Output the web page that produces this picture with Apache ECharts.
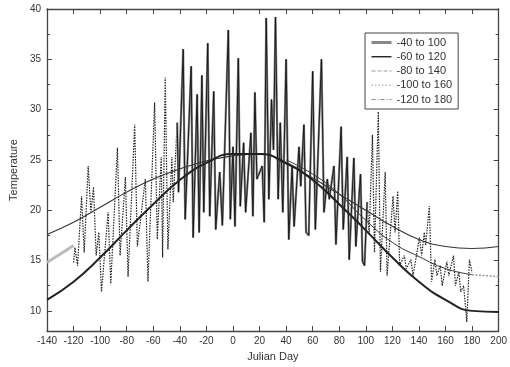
<!DOCTYPE html>
<html><head><meta charset="utf-8">
<script src="https://cdn.jsdelivr.net/npm/echarts@6/dist/echarts.min.js"></script>
<style>html,body{margin:0;padding:0;background:#fff}#c{width:510px;height:367px}</style>
</head><body><div id="c"></div>
<script>
// ---- data ----
const legendNames = ['-40 to 100', '-60 to 120', '-80 to 140', '-100 to 160', '-120 to 180'];
const yMajorTicks = [10, 15, 20, 25, 30, 35, 40];
const yMinorTicks = [12.5, 17.5, 22.5, 27.5, 32.5, 37.5];

// daily temperature trace (peaks / troughs)
const noiseDays = [
  -120, -119, -117, -114, -112, -109, -107, -105, -103, -101, -99, -94, -92, -87, -85, -81, -79,
  -74, -72, -66, -64, -59, -57, -54, -53, -51, -49, -46, -45, -42, -41,
  -37.5, -36, -31.5, -30, -27, -25.5, -23.4, -22, -19, -17.5, -14.5, -13, -10, -8, -3.5, -2,
  0, 1.5, 4, 5.5, 8, 9.5, 13.5, 15, 16.5, 18, 22, 23.5, 25, 27, 29, 30.5, 32, 34, 35.6, 37.5,
  40, 42, 44.5, 46, 49.7, 51, 53.4, 55, 57, 60, 62, 66.6, 68.5, 71, 72.5, 76, 77.5, 81.4, 83,
  86, 87.5, 91, 92.5, 96, 97.5, 99, 101, 102.5,
  105, 106.5, 109.4, 111, 114.6, 116, 120.5, 122, 124, 125.5, 129, 130.5, 134, 135.5, 140.4, 142,
  144, 145, 147.8, 149.5, 152, 153.5, 156, 157.5, 161, 162.5, 166, 167.5, 170, 171.5, 173.6, 175,
  176, 178, 180
];
const noiseTemps = [
  14.8, 16.3, 14.5, 21.4, 15.8, 24.4, 19.8, 22.3, 15.5, 17.8, 11.9, 19.8, 12.7, 26.2, 15.5, 23.3, 13.4,
  28.5, 16.4, 23.1, 12.9, 30.7, 17.1, 25.3, 15.3, 33.2, 16.1, 25.3, 20.8, 28.7, 21.8,
  36.0, 19.1, 34.3, 17.3, 31.5, 17.8, 33.4, 19.8, 36.6, 19.4, 31.8, 18.1, 23.8, 18.5, 37.9, 19.1,
  26.3, 18.4, 35.1, 20.4, 26.7, 19.8, 27.7, 19.4, 31.7, 23.1, 24.4, 18.8, 39.1, 21.1, 31.0, 26.0, 39.2, 21.1, 28.7, 19.8,
  35.0, 17.1, 24.4, 18.4, 26.3, 22.4, 28.5, 17.8, 17.5, 33.8, 18.1, 35.0, 19.8, 23.1, 21.1, 24.4, 16.6, 28.3, 18.1,
  25.3, 15.1, 25.2, 16.4, 23.6, 14.9, 14.5, 20.8, 17.6,
  27.5, 15.8, 29.8, 13.9, 23.8, 13.5, 21.4, 17.8, 21.9, 14.5, 15.5, 14.2, 15.1, 13.5, 17.3, 15.5,
  17.8, 16.5, 20.4, 12.9, 15.1, 13.5, 14.5, 12.5, 14.9, 13.5, 15.5, 12.5, 13.9, 11.9, 12.5, 10.5,
  8.9, 15.1, 13.8
];

// fitted seasonal curves
const fitDays = [-140, -120, -100, -80, -60, -40, -20, 0, 20, 40, 60, 80, 100, 120, 140, 160, 180, 200];
const fitLow  = [11.1, 12.9, 15.3, 18.0, 20.6, 23.0, 24.7, 25.6, 25.6, 24.7, 23.0, 20.6, 18.0, 15.3, 12.9, 11.1, 10.0, 9.9];
const fitHigh = [17.6, 18.8, 20.3, 21.8, 23.1, 24.1, 24.9, 25.4, 25.6, 24.6, 23.2, 21.6, 20.0, 18.4, 17.1, 16.4, 16.2, 16.4];
const fitMid  = [14.8, 16.5, 18.2, 19.9, 21.5, 23.0, 24.3, 25.2, 25.5, 25.0, 23.6, 21.6, 19.0, 16.8, 15.4, 14.2, 13.6, 13.4];

// ---- build ----
const pts = noiseDays.map((d, i) => [d, noiseTemps[i]]);
const solidPts = pts.filter(p => p[0] >= -42 && p[0] <= 101);
const pair = arr => fitDays.map((d, i) => [d, arr[i]]);
const midAll = pair(fitMid);
const midLeft = midAll.filter(p => p[0] <= -120);
const midRight = midAll.filter(p => p[0] >= 40 && p[0] <= 180);
const midTail = midAll.filter(p => p[0] >= 180);

const txt = '#333';
const axisLine = {show: true, onZero: false, lineStyle: {color: '#444', width: 1.3}};
const hideSym = {opacity: 0};
const chart = echarts.init(document.getElementById('c'));
chart.setOption({
  animation: false,
  backgroundColor: '#fff',
  grid: {left: 42, right: 7, top: 9, bottom: 36},
  legend: {
    orient: 'vertical', left: 365, top: 33,
    itemWidth: 20, itemHeight: 11, itemGap: 3.25,
    padding: [4, 6, 4, 5],
    borderColor: '#444', borderWidth: 1, backgroundColor: '#fff',
    textStyle: {fontSize: 11, color: txt, fontFamily: 'Liberation Sans'},
    data: [
      {name: legendNames[0], itemStyle: hideSym, lineStyle: {color: '#888', width: 3, type: 'solid'}},
      {name: legendNames[1], itemStyle: hideSym, lineStyle: {color: '#111', width: 1.3, type: 'solid'}},
      {name: legendNames[2], itemStyle: hideSym, lineStyle: {color: '#999', width: 1, type: [4, 2]}},
      {name: legendNames[3], itemStyle: hideSym, lineStyle: {color: '#bbb', width: 1.5, type: [1.5, 2]}},
      {name: legendNames[4], itemStyle: hideSym, lineStyle: {color: '#888', width: 1, type: [4, 2, 1, 2]}}
    ]
  },
  xAxis: [{
    type: 'value', min: -140, max: 200, interval: 20, position: 'bottom',
    name: 'Julian Day', nameLocation: 'middle', nameGap: 20,
    nameTextStyle: {fontSize: 11, color: txt, fontFamily: 'Liberation Sans'},
    axisLine: axisLine,
    axisTick: {inside: true, length: 5, lineStyle: {color: '#444'}},
    axisLabel: {fontSize: 10, color: txt, margin: 5, fontFamily: 'Liberation Sans'},
    splitLine: {show: false}
  }, {
    type: 'value', min: -140, max: 200, interval: 20, position: 'top',
    axisLine: axisLine,
    axisTick: {inside: true, length: 5, lineStyle: {color: '#444'}},
    axisLabel: {show: false}, splitLine: {show: false}
  }],
  yAxis: [{
    type: 'value', min: 8, max: 40, position: 'left',
    name: 'Temperature', nameLocation: 'middle', nameGap: 28, nameRotate: 90,
    nameTextStyle: {fontSize: 11, color: txt, fontFamily: 'Liberation Sans'},
    axisLine: axisLine,
    axisTick: {inside: true, length: 5, customValues: yMajorTicks, lineStyle: {color: '#444'}},
    axisLabel: {fontSize: 10, color: txt, margin: 6, customValues: yMajorTicks, fontFamily: 'Liberation Sans'},
    splitLine: {show: false}
  }, {
    type: 'value', min: 8, max: 40, position: 'left',
    axisLine: {show: false, onZero: false},
    axisTick: {inside: true, length: 3, customValues: yMinorTicks, lineStyle: {color: '#444'}},
    axisLabel: {show: false, customValues: yMinorTicks}, splitLine: {show: false}
  }, {
    type: 'value', min: 8, max: 40, position: 'right',
    axisLine: axisLine,
    axisTick: {inside: true, length: 5, customValues: yMajorTicks, lineStyle: {color: '#444'}},
    axisLabel: {show: false, customValues: yMajorTicks}, splitLine: {show: false}
  }, {
    type: 'value', min: 8, max: 40, position: 'right',
    axisLine: {show: false, onZero: false},
    axisTick: {inside: true, length: 3, customValues: yMinorTicks, lineStyle: {color: '#444'}},
    axisLabel: {show: false, customValues: yMinorTicks}, splitLine: {show: false}
  }],
  series: [
    {name: legendNames[3], type: 'line', symbol: 'none', data: pts, z: 2, color: '#222',
     lineStyle: {color: '#222', width: 1.2, type: [1.5, 1.2]}},
    {name: legendNames[0], type: 'line', symbol: 'none', data: solidPts, z: 3, color: '#888',
     lineStyle: {color: '#888', width: 2.2}},
    {name: legendNames[1], type: 'line', symbol: 'none', data: solidPts, z: 4, color: '#111',
     lineStyle: {color: '#111', width: 0.9}},
    {name: legendNames[4], type: 'line', symbol: 'none', smooth: true, data: midLeft, z: 5, color: '#bbb',
     lineStyle: {color: '#bbb', width: 3}},
    {name: 'midTail', type: 'line', symbol: 'none', smooth: true, data: midTail, z: 5, color: '#999',
     lineStyle: {color: '#999', width: 1.5, type: [2, 1.5]}},
    {name: legendNames[2], type: 'line', symbol: 'none', smooth: true, data: midRight, z: 6, color: '#333',
     lineStyle: {color: '#333', width: 1}},
    {name: 'fitHigh', type: 'line', symbol: 'none', smooth: true, data: pair(fitHigh), z: 6, color: '#333',
     lineStyle: {color: '#333', width: 1.1}},
    {name: 'fitLow', type: 'line', symbol: 'none', smooth: true, data: pair(fitLow), z: 7, color: '#222',
     lineStyle: {color: '#222', width: 2}}
  ]
});
</script></body></html>
